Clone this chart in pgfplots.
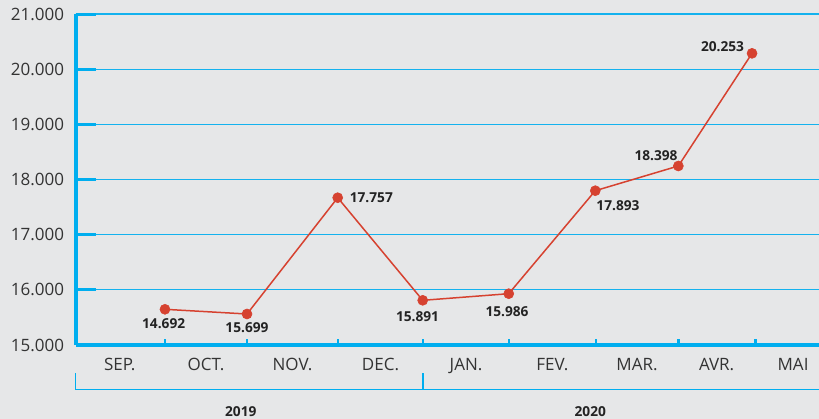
\documentclass[border=0pt]{standalone}
\usepackage{pgfplots}
\pgfplotsset{compat=1.18}
\usepackage{pgfplotstable}
\usepackage{fontspec}
\setmainfont{Open Sans}
\definecolor{bgc}{RGB}{230,231,232}
\definecolor{cyanc}{RGB}{0,174,239}
\definecolor{gridc}{RGB}{20,178,238}
\definecolor{redc}{RGB}{214,66,48}
\definecolor{textc}{RGB}{51,51,51}
\definecolor{labelc}{RGB}{35,35,35}

\pgfplotstableread{
x y dx dy label
0.987 15647 -1.3 -14.7 14.692
1.951 15562 0 -13.5 15.699
3.017 17670 33.6 0 17.757
4.016 15810 -5.2 -16.7 15.891
5.027 15930 -1.7 -18.3 15.986
6.044 17797 22.7 -14.6 17.893
7.020 18245 -22.3 10.7 18.398
7.886 20287 -29.5 7.1 20.253
}\datatable

\begin{document}
\begin{tikzpicture}
\fill[bgc] (0,0) rectangle (819bp,419bp);
\begin{axis}[
  at={(75.7bp,74bp)}, anchor=south west,
  scale only axis, width=743.3bp, height=331bp,
  xmin=-0.062, xmax=8.673, ymin=15000, ymax=21000,
  clip=false,
  scaled y ticks=false,
  axis lines=left,
  axis line style={-, draw=cyanc},
  x axis line style={line width=3.3bp},
  y axis line style={line width=4bp},
  tick align=inside,
  ytick={15000,16000,...,21000},
  yticklabels={15.000,16.000,17.000,18.000,19.000,20.000,21.000},
  major tick length=20bp,
  major y tick style={line width=3bp, draw=cyanc},
  xtick={0.455,1.469,2.485,3.52,4.525,5.54,6.534,7.47,8.368},
  xticklabels={SEP.,OCT.,NOV.,DEC.,JAN.,FEV.,MAR.,AVR.,MAI},
  major x tick style={draw=none},
  minor xtick={0.987,1.951,3.02,4.02,5.03,6.05,7.02,7.924},
  minor tick length=6bp,
  minor x tick style={line width=2.5bp, draw=cyanc},
  ymajorgrids,
  major grid style={line width=1.2bp, draw=gridc},
  yticklabel style={font=\fontsize{17.07}{20}\selectfont, text=textc, anchor=east, inner sep=0pt, xshift=-11.4bp},
  xticklabel style={font=\fontsize{17.07}{20}\selectfont, text=textc, anchor=base, inner sep=0pt, yshift=-25bp},
]
\addplot[color=redc, line width=1.5bp, mark=*, mark size=5bp,
  mark options={solid, fill=redc, draw=redc, line width=0.6bp},
  nodes near coords, point meta=explicit symbolic,
  visualization depends on={\thisrow{dx} \as \labdx},
  visualization depends on={\thisrow{dy} \as \labdy},
  every node near coord/.append style={anchor=center, inner sep=0pt,
    xshift=\labdx bp, yshift=\labdy bp,
    font=\fontsize{13.75}{16}\selectfont\bfseries, text=labelc}
] table[x=x, y=y, meta=label] {\datatable};
\draw[draw=cyanc, line width=1.2bp] (axis cs:-0.062,14492) -- (axis cs:-0.062,14193) -- (axis cs:8.673,14193);
\draw[draw=cyanc, line width=1.2bp] (axis cs:4.02,14492) -- (axis cs:4.02,14193);
\node[inner sep=0pt, font=\fontsize{13.75}{16}\selectfont\bfseries, text=labelc] at (axis cs:1.878,13800) {2019};
\node[inner sep=0pt, font=\fontsize{13.75}{16}\selectfont\bfseries, text=labelc] at (axis cs:5.985,13800) {2020};
\end{axis}
\pgfresetboundingbox
\useasboundingbox (0,0) rectangle (819bp,419bp);
\end{tikzpicture}
\end{document}
